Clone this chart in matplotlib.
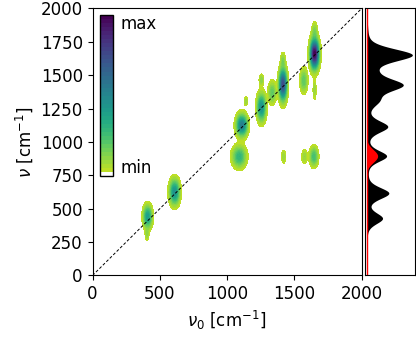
import numpy as np
import matplotlib
matplotlib.use("Agg")
import matplotlib.pyplot as plt

# 2D peaks: centre (pump, probe), amplitude, widths
peak_x = [410, 405, 610, 1110, 1140, 1090, 1255, 1255, 1335, 1415, 1415, 1420,
          1570, 1575, 1650, 1650, 1650, 1645]
peak_y = [440, 310, 625, 1125, 1305, 890, 1260, 1465, 1370, 1430, 1610, 890,
          1460, 890, 1660, 1390, 1830, 890]
peak_amp = [0.40, 0.10, 0.45, 0.55, 0.10, 0.30, 0.45, 0.12, 0.20, 0.75, 0.12, 0.10,
            0.20, 0.10, 1.00, 0.10, 0.12, 0.25]
peak_sx = [19, 8, 22, 24, 8, 30, 19, 10, 17, 17, 10, 9,
           16, 13, 19, 7, 12, 18]
peak_sy = [50, 30, 56, 48, 20, 48, 61, 25, 48, 70, 35, 30,
           53, 32, 65, 45, 40, 43]

# 1D spectrum on the right (probe axis)
spec_pos = [1652, 1530, 1427, 1310, 1115, 895, 617, 428]
spec_amp = [0.93, 0.10, 0.72, 0.20, 0.42, 0.40, 0.45, 0.32]
spec_wid = [55, 50, 55, 50, 50, 48, 50, 48]
red_pos = [895]
red_amp = [0.23]
red_wid = [48]


def pvoigt_sum(grid, pos, amp, wid, eta=0.3):
    out = np.zeros_like(grid, dtype=float)
    for p, a, w in zip(pos, amp, wid):
        d2 = ((grid - p) / w) ** 2
        out += a * (eta / (1 + d2) + (1 - eta) * np.exp(-np.log(2) * d2))
    return out


def gauss_sum(grid, pos, amp, wid):
    out = np.zeros_like(grid, dtype=float)
    for p, a, w in zip(pos, amp, wid):
        out += a * np.exp(-0.5 * ((grid - p) / w) ** 2)
    return out


x = np.linspace(0, 2000, 500)
y = np.linspace(0, 2000, 500)
X, Y = np.meshgrid(x, y)
Z = np.zeros_like(X)
for px, py, a, sx, sy in zip(peak_x, peak_y, peak_amp, peak_sx, peak_sy):
    Z += a * np.exp(-0.5 * ((X - px) / sx) ** 2 - 0.5 * ((Y - py) / sy) ** 2)

nlev = 40
levels = np.linspace(0, Z.max(), nlev + 1)
vir = plt.get_cmap("viridis")
colors = ["white"] + [vir(v) for v in np.linspace(0.9, 0.0, nlev - 1)]

fig = plt.figure(figsize=(4.16, 3.38), dpi=100)
ax = fig.add_axes([0.2224, 0.185, 0.647, 0.790])
cf = ax.contourf(X, Y, Z, levels=levels, colors=colors)
ax.plot([0, 2000], [0, 2000], "k--", lw=0.7, dashes=(3, 2))
ax.set_xlim(0, 2000)
ax.set_ylim(0, 2000)
ax.set_xticks([0, 500, 1000, 1500, 2000])
ax.set_yticks(np.arange(0, 2001, 250))
ax.tick_params(labelsize=12)
ax.set_xlabel(r"$\nu_0$ [cm$^{-1}$]", fontsize=12)
ax.set_ylabel(r"$\nu$ [cm$^{-1}$]", fontsize=12)

cax = fig.add_axes([0.240, 0.479, 0.031, 0.476])
cb = fig.colorbar(cf, cax=cax, ticks=[])
cb.outline.set_linewidth(1.0)
fig.text(0.290, 0.930, "max", fontsize=12, va="center")
fig.text(0.290, 0.502, "min", fontsize=12, va="center")

ax2 = fig.add_axes([0.877, 0.185, 0.120, 0.790])
spec = pvoigt_sum(y, spec_pos, spec_amp, spec_wid)
red = gauss_sum(y, red_pos, red_amp, red_wid)
ax2.fill_betweenx(y, 0, spec, color="black", lw=0)
ax2.fill_betweenx(y, 0, red, color="red", lw=0)
ax2.axvline(0, color="red", lw=1.0)
ax2.set_xlim(-0.035, 1.0)
ax2.set_ylim(0, 2000)
ax2.set_xticks([])
ax2.set_yticks([])

fig.savefig("out.png", dpi=100)
